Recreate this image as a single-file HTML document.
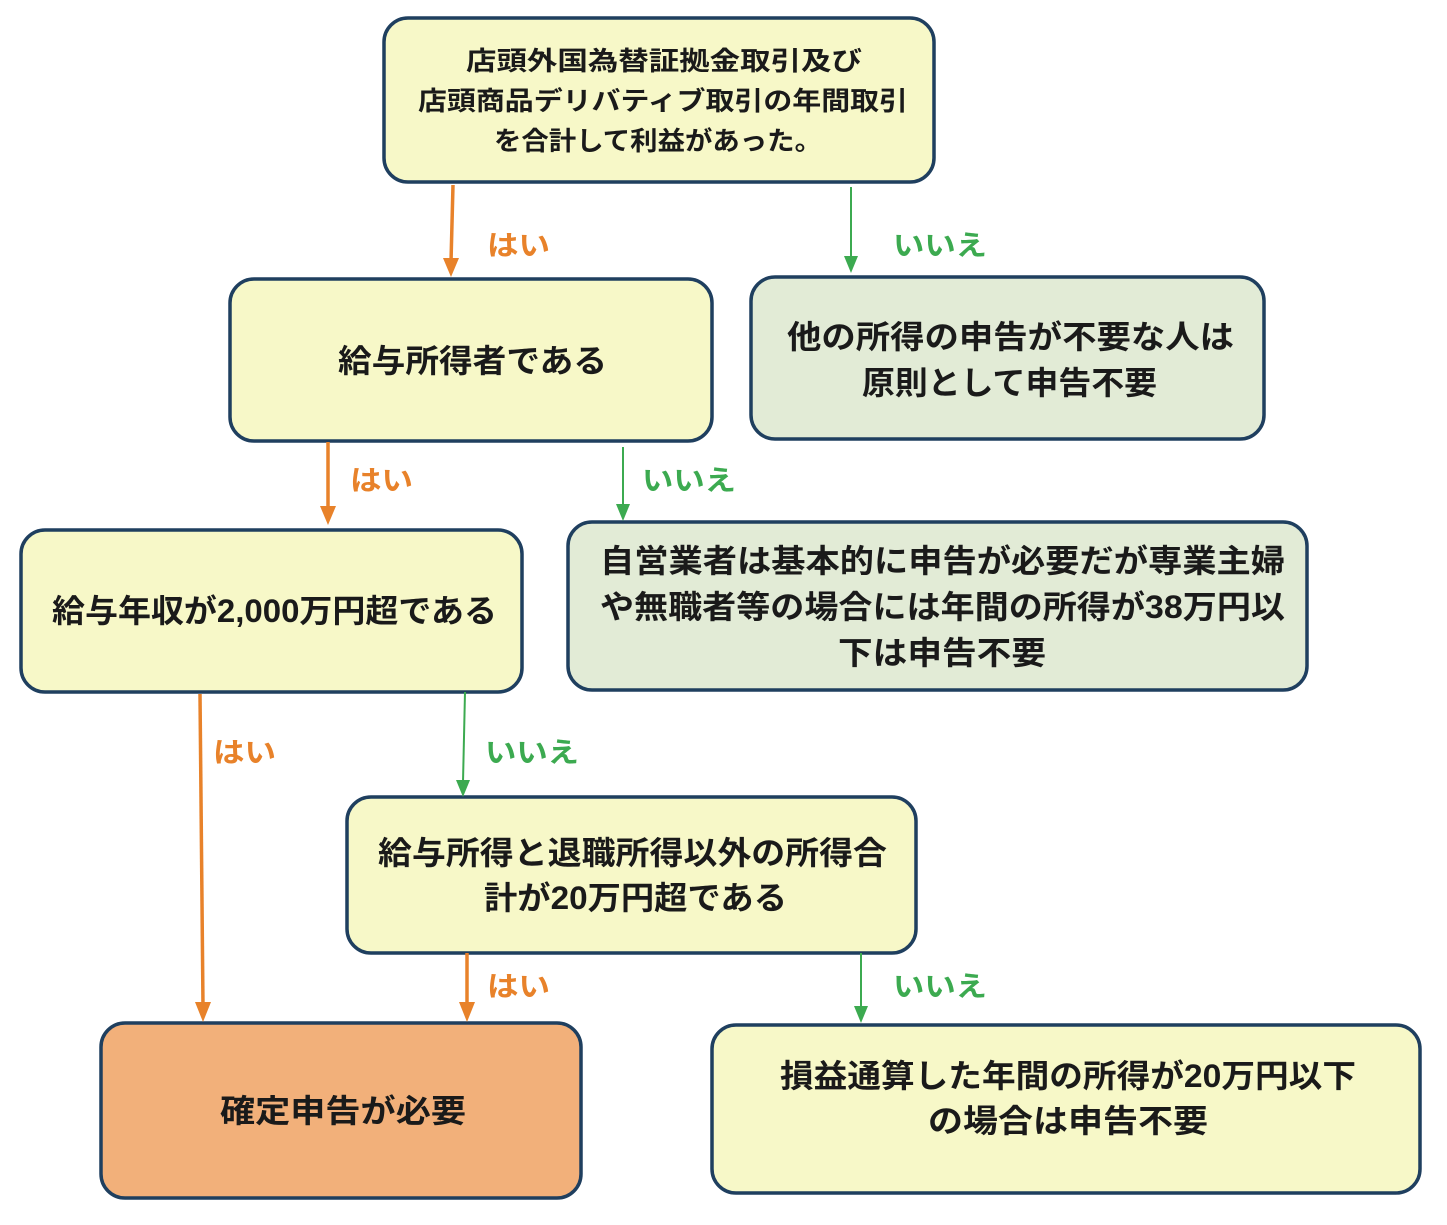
<!DOCTYPE html>
<html><head><meta charset="utf-8"><style>
html,body{margin:0;padding:0;background:#fff;}
svg{display:block;}
text{font-family:"Liberation Sans","Noto Sans CJK JP",sans-serif;font-weight:bold;}
.t{fill:#1a1a1a;font-size:32px;}
.s{fill:#1a1a1a;font-size:26px;}
.o{fill:#e8822a;font-size:28px;}
.g{fill:#3caa50;font-size:28px;}
</style></head><body>
<svg width="1447" height="1225" viewBox="0 0 1447 1225">
<g stroke="#1f3f5f" stroke-width="3.5">
<rect x="384" y="18" width="550" height="164" rx="24" fill="#f7f8c8"/>
<rect x="230" y="279" width="482" height="162" rx="24" fill="#f7f8c8"/>
<rect x="751" y="277" width="513" height="162" rx="24" fill="#e2ebd6"/>
<rect x="21" y="530" width="501" height="162" rx="24" fill="#f7f8c8"/>
<rect x="568" y="522" width="739" height="168" rx="24" fill="#e2ebd6"/>
<rect x="347" y="797" width="569" height="156" rx="24" fill="#f7f8c8"/>
<rect x="101" y="1023" width="480" height="175" rx="24" fill="#f2b07a"/>
<rect x="712" y="1025" width="708" height="168" rx="24" fill="#f7f8c8"/>
</g>
<g stroke-width="3.5" stroke="#e8822a">
<line x1="453" y1="185" x2="451" y2="262"/>
<line x1="328" y1="442" x2="328" y2="510"/>
<line x1="200" y1="694" x2="203" y2="1006"/>
<line x1="467" y1="953" x2="467" y2="1006"/>
</g>
<g fill="#e8822a">
<polygon points="443,258 459,258 451,277"/>
<polygon points="320,506 336,506 328,525"/>
<polygon points="195,1002 211,1002 203,1022"/>
<polygon points="459,1002 475,1002 467,1022"/>
</g>
<g stroke-width="2" stroke="#3caa50">
<line x1="851" y1="187" x2="851" y2="258"/>
<line x1="623" y1="447" x2="623" y2="506"/>
<line x1="465" y1="692" x2="463" y2="782"/>
<line x1="861" y1="953" x2="861" y2="1008"/>
</g>
<g fill="#3caa50">
<polygon points="844,256 858,256 851,273"/>
<polygon points="616,504 630,504 623,521"/>
<polygon points="456,780 470,780 463,797"/>
<polygon points="854,1006 868,1006 861,1023"/>
</g>
<text class="o" x="487" y="255" textLength="63" lengthAdjust="spacingAndGlyphs">はい</text>
<text class="g" x="893" y="255" textLength="94" lengthAdjust="spacingAndGlyphs">いいえ</text>
<text class="o" x="350" y="490" textLength="63" lengthAdjust="spacingAndGlyphs">はい</text>
<text class="g" x="642" y="490" textLength="94" lengthAdjust="spacingAndGlyphs">いいえ</text>
<text class="o" x="213" y="762" textLength="63" lengthAdjust="spacingAndGlyphs">はい</text>
<text class="g" x="485" y="762" textLength="94" lengthAdjust="spacingAndGlyphs">いいえ</text>
<text class="o" x="487" y="996" textLength="63" lengthAdjust="spacingAndGlyphs">はい</text>
<text class="g" x="893" y="996" textLength="94" lengthAdjust="spacingAndGlyphs">いいえ</text>

<text class="s" x="466" y="70" textLength="396" lengthAdjust="spacingAndGlyphs">店頭外国為替証拠金取引及び</text>
<text class="s" x="418" y="110" textLength="490" lengthAdjust="spacingAndGlyphs">店頭商品デリバティブ取引の年間取引</text>
<text class="s" x="494" y="150" textLength="328" lengthAdjust="spacingAndGlyphs">を合計して利益があった。</text>

<text class="t" x="338" y="372" textLength="269" lengthAdjust="spacingAndGlyphs">給与所得者である</text>
<text class="t" x="787" y="348" textLength="447" lengthAdjust="spacingAndGlyphs">他の所得の申告が不要な人は</text>
<text class="t" x="862" y="394" textLength="295" lengthAdjust="spacingAndGlyphs">原則として申告不要</text>
<text class="t" x="52" y="622" textLength="445" lengthAdjust="spacingAndGlyphs">給与年収が2,000万円超である</text>
<text class="t" x="600" y="572" textLength="685" lengthAdjust="spacingAndGlyphs">自営業者は基本的に申告が必要だが専業主婦</text>
<text class="t" x="600" y="618" textLength="685" lengthAdjust="spacingAndGlyphs">や無職者等の場合には年間の所得が38万円以</text>
<text class="t" x="838" y="664" textLength="208" lengthAdjust="spacingAndGlyphs">下は申告不要</text>
<text class="t" x="378" y="864" textLength="509" lengthAdjust="spacingAndGlyphs">給与所得と退職所得以外の所得合</text>
<text class="t" x="484" y="909" textLength="303" lengthAdjust="spacingAndGlyphs">計が20万円超である</text>
<text class="t" x="220" y="1122" textLength="246" lengthAdjust="spacingAndGlyphs">確定申告が必要</text>
<text class="t" x="780" y="1087" textLength="576" lengthAdjust="spacingAndGlyphs">損益通算した年間の所得が20万円以下</text>
<text class="t" x="928" y="1132" textLength="280" lengthAdjust="spacingAndGlyphs">の場合は申告不要</text>
</svg>
</body></html>
